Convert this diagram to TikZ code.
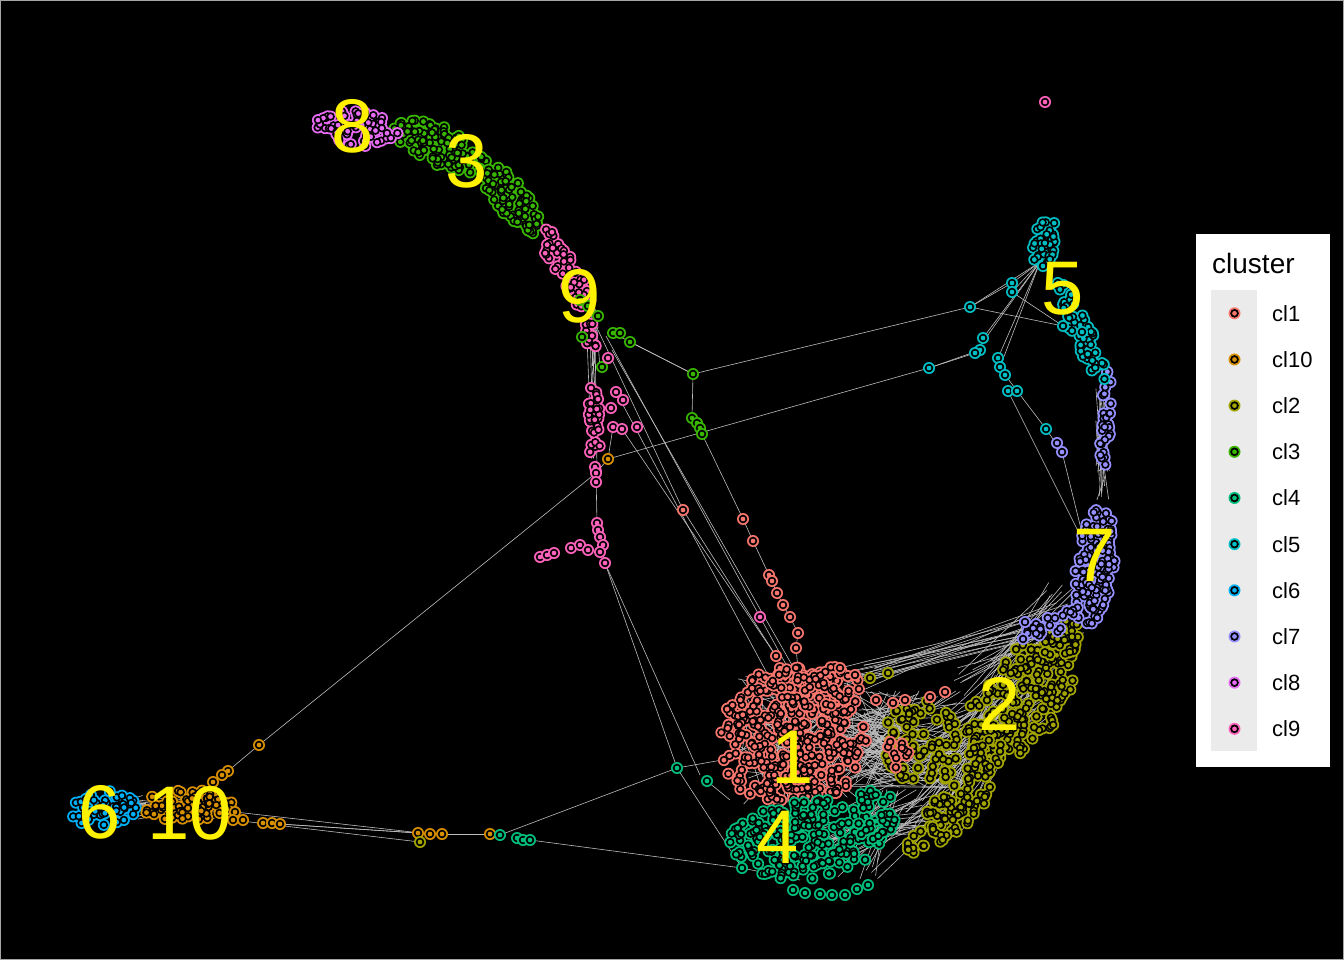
\documentclass[tikz,border=0pt]{standalone}
\usepackage{fontspec}
\setmainfont{Liberation Sans}
\definecolor{c1}{HTML}{F8766D}
\definecolor{c10}{HTML}{D89000}
\definecolor{c2}{HTML}{A3A500}
\definecolor{c3}{HTML}{39B600}
\definecolor{c4}{HTML}{00BF7D}
\definecolor{c5}{HTML}{00BFC4}
\definecolor{c6}{HTML}{00B0F6}
\definecolor{c7}{HTML}{9590FF}
\definecolor{c8}{HTML}{E76BF3}
\definecolor{c9}{HTML}{FF62BC}
\definecolor{linkgray}{HTML}{BDBDBD}
\definecolor{panelgray}{HTML}{EBEBEB}
% colour, seed, cx, cy, rx, ry, angle, count
\newcommand{\cloud}[8]{%
	\pgfmathsetseed{#2}%
	\foreach \k in {1,...,#8}{%
		\pgfmathsetmacro\pa{rnd*360}\pgfmathsetmacro\pr{sqrt(rnd)}%
		\fill[#1] ({#3+\pr*(#5*cos(\pa)*cos(#7)-#6*sin(\pa)*sin(#7))},{#4+\pr*(#5*cos(\pa)*sin(#7)+#6*sin(\pa)*cos(#7))}) circle (6pt);}%
	\pgfmathsetseed{#2}%
	\foreach \k in {1,...,#8}{%
		\pgfmathsetmacro\pa{rnd*360}\pgfmathsetmacro\pr{sqrt(rnd)}%
		\filldraw[fill=#1, draw=black, line width=1.6pt] ({#3+\pr*(#5*cos(\pa)*cos(#7)-#6*sin(\pa)*sin(#7))},{#4+\pr*(#5*cos(\pa)*sin(#7)+#6*sin(\pa)*cos(#7))}) circle (3.4pt);}%
}
% box 1 (x,y,w,h), box 2 (x,y,w,h), count
\newcommand{\mesh}[9]{%
	\foreach \k in {1,...,#9}{%
		\pgfmathsetmacro\ax{#1+rnd*#3}\pgfmathsetmacro\ay{#2+rnd*#4}%
		\pgfmathsetmacro\bx{#5+rnd*#7}\pgfmathsetmacro\by{#6+rnd*#8}%
		\draw[link] (\ax,\ay) -- (\bx,\by);}%
}
\newcommand{\vtx}[2]{%
	\fill[#1] (#2) circle (6pt);
	\filldraw[fill=#1, draw=black, line width=1.6pt] (#2) circle (3.4pt);}
\begin{document}
\begin{tikzpicture}[x=1pt, y=-1pt, link/.style={draw=linkgray, line width=0.6pt},
	big/.style={text=yellow, inner sep=0pt, font=\fontsize{76}{76}\selectfont}]
	\useasboundingbox (0,0) rectangle (1344,960);
	\fill[black] (0,0) rectangle (1344,960);
	\draw[gray!70, line width=1.5pt] (0,0) rectangle (1344,960);
	%\draw[help lines] (0,0) grid[step=50] (1344,960);
	
	\foreach \nm/\x/\y in {o1/259/745, o2/228/771, o2b/222/775, o2c/213/782, o9/235/812, o10/233/820,
		o11/243/820, o5/263/823, o12/272/823, o4/280/824, o6/418/833, o6b/430/834, o7/442/834,
		o8/490/834, o3/608/459, y1/420/842, y2/870/678, y3/888/673,
		g4a/500/835, g4a2/517/838, g4a3/523/840, g4b/530/840, g4c/677/768, g4d/742/868, g4e/707/781,
		g4f/793/890, g4g/805/893, g4h/820/894, g4i/832/895, g4j/845/895, g4k/857/889, g4l/868/885,
		g3f/580/300, g3g/588/306, g3h/598/316, g3i/582/337, g3d/613/333, g3j/620/333, g3c/630/342,
		g3k/602/367, g3a/693/374, g3e/692/418, g3l/697/423, g3m/700/428, g3b/702/434,
		p9c/596/473, p9g/596/482, p9b/597/523, p9h/598/530, p9i/600/537, p9j/603/545, p9k/600/552,
		p9a/605/563, p9f/540/557, p9l/547/555, p9m/554/553, p9n/571/548, p9o/580/545, p9p/588/550,
		p9q/608/358, p9r/616/392, p9s/623/400, p9t/611/408, p9u/613/427, p9v/622/429, p9d/637/427,
		p9e/760/617, p9w/1045/102,
		r1a/683/510, r1b/743/519, r1e/753/541, r1f/769/575, r1g/772/581, r1h/777/593, r1i/783/605,
		r1j/790/617, r1d/798/633, r1k/796/648, r1c/776/656, r1l/840/668, r1m/855/675, r1n/930/697,
		r1o/945/692, r1p/876/700, r1q/893/703, r1r/905/700,
		c5a/970/307, c5e/1012/283, c5h/1012/292, c5g/1063/326, c5i/1082/332, c5f/980/350, c5j/983/338,
		c5k/975/353, c5l/998/358, c5m/1000/367, c5n/1005/375, c5c/1008/391, c5o/1017/391, c5d/1046/429,
		c5b/929/368, c7a/1062/452, c7c/1057/443, c7b/1025/622, c7d/1023/639,
		h1/776/690, h2/800/690, h3/812/700, h4/722/760, h5/1040/262, h6/1085/545, h7/1092/372,
		h8/800/880, h9/730/800, h10/598/330, h11/606/336, h12/612/350, h13/700/775, h14/870/672}
	\coordinate (\nm) at (\x,\y);
	
	\pgfmathsetseed{500}
	\mesh{820}{690}{60}{100}{880}{690}{90}{100}{110}
	\mesh{735}{675}{125}{130}{735}{675}{125}{130}{100}
	\mesh{990}{650}{70}{70}{900}{720}{70}{110}{60}
	\mesh{1035}{600}{40}{40}{840}{665}{40}{25}{12}
	\mesh{1045}{580}{40}{60}{950}{660}{80}{70}{25}
	\mesh{800}{820}{80}{60}{880}{780}{70}{60}{40}
	\mesh{1098}{380}{12}{120}{1095}{380}{15}{120}{25}
	\mesh{80}{795}{150}{25}{80}{795}{150}{25}{30}
	\mesh{585}{300}{15}{40}{590}{330}{10}{150}{12}
	
	\foreach \p/\q in {o2/o1, o1/p9c, o3/c5b, c5b/c5f, o3/p9u, o3/p9c, g3a/c5a, c5a/h5, c5a/c5e,
		c5a/c5g, g3a/g3c, g3a/g3e, g3b/r1b, r1b/r1e, r1e/r1f, r1f/r1h, r1h/r1i, r1i/r1j, r1j/r1d,
		r1d/r1k, r1k/h2, h10/r1a, r1a/r1c, h11/p9e, p9e/h2, h12/h3, p9r/h1, p9v/r1c, p9a/g4c,
		p9a/h13, p9c/p9b, p9b/p9a, g4c/h4, g4c/g4a, g4c/g4d, g4b/g4d, g4d/h8, g4e/h9, o4/o6,
		o5/o6, o9/o6b, o10/y1, o6/o7, o7/o8, o8/g4a, c5c/h6, c5d/c7a, c5d/c5n, c7a/h6, h5/c5j,
		h5/c5k, h5/c5l, c5e/h5, c5h/h5, c5g/c5i, c5i/h7, c5b/c5k, c7b/r1l, c7d/r1m, c7b/h14,
		h5/c5m, c5h/c5g, g3d/g3a, y2/r1l, y3/r1m}
	\draw[link] (\p) -- (\q);
	
	% clusters
	\cloud{c2}{31}{1020}{700}{70}{42}{-52}{180}
	\cloud{c2}{32}{965}{790}{60}{25}{-55}{85}
	\cloud{c2}{33}{1062}{640}{22}{16}{-50}{35}
	\cloud{c2}{34}{922}{742}{38}{45}{0}{65}
	\cloud{c2}{35}{925}{840}{26}{10}{-25}{18}
	\cloud{c1}{11}{792}{738}{74}{72}{0}{340}
	\cloud{c1}{12}{815}{686}{45}{22}{0}{50}
	\cloud{c1}{13}{898}{752}{12}{16}{0}{10}
	\cloud{c4}{21}{805}{840}{80}{40}{-5}{190}
	\cloud{c4}{22}{875}{815}{22}{28}{0}{30}
	\cloud{c7}{41}{1106}{420}{6}{50}{3}{28}
	\cloud{c7}{42}{1095}{565}{19}{62}{8}{120}
	\cloud{c7}{43}{1055}{622}{32}{10}{-25}{22}
	\cloud{c5}{51}{1044}{244}{12}{28}{15}{35}
	\cloud{c5}{52}{1082}{333}{57}{10}{66}{50}
	\cloud{c3}{61}{440}{146}{50}{19}{24}{95}
	\cloud{c3}{62}{510}{198}{46}{16}{50}{75}
	\cloud{c9}{71}{566}{270}{47}{13}{61}{45}
	\cloud{c9}{72}{590}{333}{16}{8}{70}{14}
	\cloud{c9}{73}{594}{430}{6}{50}{0}{30}
	\cloud{c8}{81}{360}{130}{44}{18}{10}{60}
	\cloud{c6}{91}{103}{808}{34}{18}{-5}{50}
	\cloud{c10}{101}{190}{806}{48}{16}{0}{65}
	
	\foreach \nm in {o1, o2, o2b, o2c, o9, o10, o11, o5, o12, o4, o6, o6b, o7, o8, o3}
	\vtx{c10}{\nm};
	\foreach \nm in {y1, y2, y3}
	\vtx{c2}{\nm};
	\foreach \nm in {g4a, g4a2, g4a3, g4b, g4c, g4d, g4e, g4f, g4g, g4h, g4i, g4j, g4k, g4l}
	\vtx{c4}{\nm};
	\foreach \nm in {g3f, g3g, g3h, g3i, g3d, g3j, g3c, g3k, g3a, g3e, g3l, g3m, g3b}
	\vtx{c3}{\nm};
	\foreach \nm in {p9c, p9g, p9b, p9h, p9i, p9j, p9k, p9a, p9f, p9l, p9m, p9n, p9o, p9p, p9q,
		p9r, p9s, p9t, p9u, p9v, p9d, p9e, p9w}
	\vtx{c9}{\nm};
	\foreach \nm in {r1a, r1b, r1e, r1f, r1g, r1h, r1i, r1j, r1d, r1k, r1c, r1l, r1m, r1n, r1o,
		r1p, r1q, r1r}
	\vtx{c1}{\nm};
	\foreach \nm in {c5a, c5e, c5h, c5g, c5i, c5f, c5j, c5k, c5l, c5m, c5n, c5c, c5o, c5d, c5b}
	\vtx{c5}{\nm};
	\foreach \nm in {c7a, c7c, c7b, c7d}
	\vtx{c7}{\nm};
	
	% cluster numbers
	\foreach \n\x\y in {8/353/126, 3/467/161, 9/580/296, 5/1063/289, 7/1095/555,
		2/1000/704, 1/793/757, 4/778/837, 6/100/812, 10/190/813}
	\node[big] (num\n) at (\x,\y) {\n};
	
	% legend
	\fill[white] (1196,234) rectangle (1330,767);
	\fill[panelgray] (1211,290) rectangle (1257,751);
	\node[anchor=base west, inner sep=0pt, font=\fontsize{28}{28}\selectfont] (title) at (1212,273) {cluster};
	\foreach \lab/\col [count=\i from 0] in {cl1/c1, cl10/c10, cl2/c2, cl3/c3, cl4/c4,
		cl5/c5, cl6/c6, cl7/c7, cl8/c8, cl9/c9}{
		\coordinate (key\i) at (1234.5, 313.3+46.17*\i);
		\fill[\col] (key\i) circle (6pt);
		\filldraw[fill=\col, draw=black, line width=1.7pt] (key\i) circle (3.4pt);
		\node[anchor=west, inner sep=0pt, font=\fontsize{22}{22}\selectfont] (lab\i) at (1272, 313.3+46.17*\i) {\lab};
	}
\end{tikzpicture}
\end{document}
